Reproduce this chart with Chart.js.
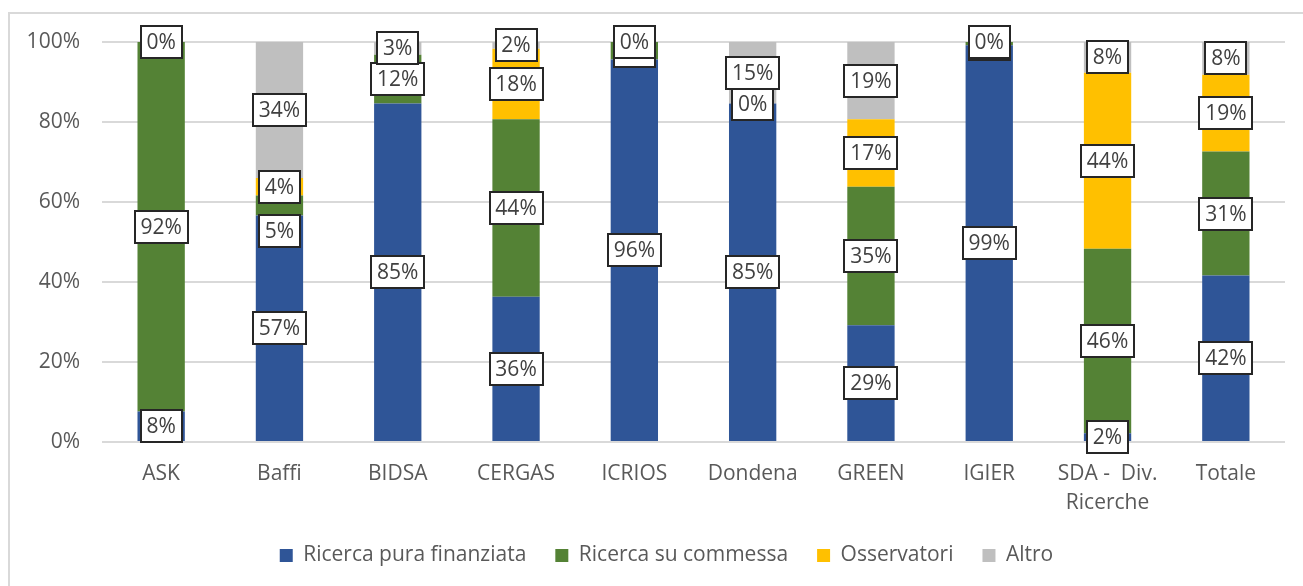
<!DOCTYPE html>
<html>
<head>
<meta charset="utf-8">
<script src="https://cdn.jsdelivr.net/npm/chart.js@4/dist/chart.umd.min.js"></script>
<style>
    html, body { margin: 0; padding: 0; background: #fff; overflow: hidden; }
    #wrap { position: relative; width: 1303px; height: 586px; }
    #frame {
        position: absolute; left: 8px; top: 12px; width: 1400px; height: 700px;
        border-left: 2px solid #D9D9D9; border-top: 2px solid #D9D9D9;
    }
    canvas { position: absolute; left: 0; top: 0; }
</style>
</head>
<body>
<div id="wrap">
    <div id="frame"></div>
    <canvas id="chart" width="1303" height="586"></canvas>
</div>
<script>
// Data
const categories = ['ASK', 'Baffi', 'BIDSA', 'CERGAS', 'ICRIOS', 'Dondena', 'GREEN', 'IGIER', ['SDA -  Div.', 'Ricerche'], 'Totale'];
const seriesNames = ['Ricerca pura finanziata', 'Ricerca su commessa', 'Osservatori', 'Altro'];
const ricercaPura = [7.6, 56.6, 84.6, 36.3, 95.6, 84.6, 29.2, 99.2, 2.2, 41.6];
const ricercaCommessa = [92.4, 5.0, 12.2, 44.4, 4.4, 0, 34.6, 0.8, 46.1, 31.0];
const osservatori = [0, 4.4, null, 17.6, 0, null, 16.9, 0, 44.0, 19.2];
const altro = [null, 34.0, 3.2, 1.7, null, 15.4, 19.3, null, 7.7, 8.2];
const yTicks = [0, 20, 40, 60, 80, 100];

const colors = ['#2F5597', '#548235', '#FFC000', '#BFBFBF'];
const FONT = '"Open Sans", "Noto Sans", sans-serif';

// label that was dragged down in the original (Baffi, commessa)
const labelNudge = { '1-1': 25 };

// Boxed value labels in the middle of each segment
const boxLabels = {
    id: 'boxLabels',
    afterDatasetsDraw(chart) {
        const ctx = chart.ctx;
        ctx.save();
        ctx.font = '21px ' + FONT;
        ctx.textAlign = 'center';
        ctx.textBaseline = 'middle';
        chart.data.datasets.forEach((ds, i) => {
            const meta = chart.getDatasetMeta(i);
            meta.data.forEach((bar, j) => {
                const v = ds.data[j];
                if (v === null || v === undefined) return;
                const text = Math.round(v) + '%';
                const y = (bar.y + bar.base) / 2 + (labelNudge[i + '-' + j] || 0);
                const w = Math.round(ctx.measureText(text).width + 12);
                const h = 32;
                const x0 = Math.round(bar.x - w / 2);
                const y0 = Math.round(y - h / 2);
                ctx.fillStyle = '#fff';
                ctx.fillRect(x0, y0, w, h);
                ctx.lineWidth = 2;
                ctx.strokeStyle = '#262626';
                ctx.strokeRect(x0, y0, w, h);
                ctx.fillStyle = '#404040';
                ctx.fillText(text, bar.x, y + 1);
            });
        });
        ctx.restore();
    }
};

// legend in the original sits a bit right of the page centre
const legendShift = {
    id: 'legendShift',
    afterLayout(chart) {
        if (chart.legend) {
            chart.legend.left += 24;
            chart.legend.right += 24;
        }
    }
};

const seriesData = [ricercaPura, ricercaCommessa, osservatori, altro];

const ctx = document.getElementById('chart').getContext('2d');
const chart = new Chart(ctx, {
    type: 'bar',
    data: {
        labels: categories,
        datasets: seriesNames.map((name, i) => ({
            label: name,
            data: seriesData[i],
            backgroundColor: colors[i],
            borderWidth: 0,
            barPercentage: 0.4,
            categoryPercentage: 1
        }))
    },
    options: {
        responsive: false,
        animation: false,
        layout: { padding: { top: 42, right: 18, bottom: 10, left: 0 } },
        plugins: {
            legend: {
                position: 'bottom',
                labels: {
                    boxWidth: 13,
                    boxHeight: 13,
                    padding: 29,
                    color: '#595959',
                    font: { family: FONT, size: 21 }
                }
            },
            tooltip: { enabled: false }
        },
        scales: {
            x: {
                stacked: true,
                grid: { display: false },
                border: { display: false },
                ticks: {
                    color: '#595959',
                    padding: 9,
                    maxRotation: 0,
                    autoSkip: false,
                    font: { family: FONT, size: 21, lineHeight: 1.4 }
                },
                afterFit(scale) { scale.height = 74; }
            },
            y: {
                stacked: true,
                min: 0,
                max: 100,
                afterBuildTicks(scale) { scale.ticks = yTicks.map(v => ({ value: v })); },
                grid: { color: '#D9D9D9', lineWidth: 2, drawTicks: false },
                border: { display: false },
                ticks: {
                    color: '#595959',
                    padding: 22,
                    font: { family: FONT, size: 21 },
                    callback: v => v + '%'
                },
                afterFit(scale) { scale.width = 102; }
            }
        }
    },
    plugins: [boxLabels, legendShift]
});
</script>
</body>
</html>
